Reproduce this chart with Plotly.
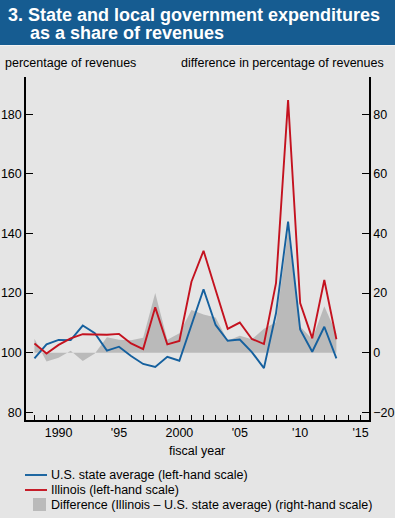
import plotly.graph_objects as go

years = list(range(1988, 2014))
us_avg = [98.1, 102.8, 104.3, 104.2, 109.1, 106.5, 100.7, 102.0, 98.9, 96.2,
          95.2, 98.6, 97.3, 109.5, 121.3, 109.3, 104.0, 104.4, 100.2, 94.8,
          113.2, 144.0, 107.8, 100.3, 108.7, 98.1]
illinois = [103.1, 99.7, 102.6, 104.8, 106.2, 106.2, 106.0, 106.3, 103.1, 101.2,
            115.2, 102.8, 103.9, 123.8, 134.2, 121.0, 108.0, 110.1, 104.6, 102.9,
            123.3, 184.8, 116.6, 104.8, 124.4, 104.5]
difference = [4.7, -3.0, -1.7, 0.6, -2.8, -0.3, 5.2, 4.3, 4.2, 5.0,
              20.0, 4.3, 6.5, 14.3, 12.8, 11.8, 4.0, 5.7, 4.5, 8.0,
              10.2, 40.8, 8.8, 4.5, 15.6, 6.4]

x_tickvals = list(range(1988, 2016))
x_label_map = {1990: "1990", 1995: "'95", 2000: "2000", 2005: "'05", 2010: "'10", 2015: "'15"}
x_ticktext = [x_label_map.get(y, "") for y in x_tickvals]
left_ticks = [80, 100, 120, 140, 160, 180]
right_ticks = [-20, 0, 20, 40, 60, 80]

BG = "#e5e5e5"
BLUE = "#15609e"
RED = "#c4121f"
GRAY = "#bababa"
BANNER = "#165c91"
FONT = "Liberation Sans, Arial, Helvetica, sans-serif"
FS = 12.5

W, H = 395, 518
L, R, T, B = 26, 369, 77, 420
PW, PH = R - L, B - T


def px(xp):
    return (xp - L) / PW


def py(yp):
    return (B - yp) / PH


fig = go.Figure()
fig.add_trace(go.Scatter(x=years, y=difference, yaxis="y2", mode="lines",
                         line=dict(width=0, color=GRAY), fill="tozeroy",
                         fillcolor=GRAY, name="Difference (Illinois – U.S. state average) (right-hand scale)",
                         showlegend=False, hoverinfo="x+y"))
fig.add_trace(go.Scatter(x=years, y=us_avg, yaxis="y", mode="lines",
                         line=dict(width=1.9, color=BLUE),
                         name="U.S. state average (left-hand scale)", showlegend=False))
fig.add_trace(go.Scatter(x=years, y=illinois, yaxis="y", mode="lines",
                         line=dict(width=1.9, color=RED),
                         name="Illinois (left-hand scale)", showlegend=False))

shapes = [
    dict(type="rect", xref="paper", yref="paper", x0=px(0), x1=px(W), y0=py(45), y1=py(0),
         fillcolor=BANNER, line=dict(width=0), layer="above"),
    dict(type="line", xref="paper", yref="paper", x0=px(0), x1=px(W), y0=py(45.5), y1=py(45.5),
         line=dict(color="#f2f2f2", width=1)),
    # legend swatches
    dict(type="line", xref="paper", yref="paper", x0=px(25), x1=px(47), y0=py(475), y1=py(475),
         line=dict(color=BLUE, width=1.9)),
    dict(type="line", xref="paper", yref="paper", x0=px(25), x1=px(47), y0=py(490), y1=py(490),
         line=dict(color=RED, width=1.9)),
    dict(type="rect", xref="paper", yref="paper", x0=px(33), x1=px(46), y0=py(511), y1=py(498),
         fillcolor=GRAY, line=dict(width=0)),
]

def ann(text, x, y, size=FS, color="black", bold=False, xanchor="left", yanchor="middle"):
    return dict(text=("<b>%s</b>" % text) if bold else text, xref="paper", yref="paper",
                x=px(x), y=py(y), xanchor=xanchor, yanchor=yanchor, showarrow=False,
                borderpad=0, font=dict(family=FONT, size=size, color=color))

annotations = [
    ann("3.", 7, 15.5, size=18, color="white", bold=True),
    ann("State and local government expenditures", 27, 15.5, size=18, color="white", bold=True),
    ann("as a share of revenues", 29, 33.5, size=18, color="white", bold=True),
    ann("percentage of revenues", 4, 63),
    ann("difference in percentage of revenues", 385, 63, xanchor="right"),
    ann("fiscal year", 197, 451, xanchor="center"),
    ann("U.S. state average (left-hand scale)", 50, 475),
    ann("Illinois (left-hand scale)", 50, 490),
    ann("Difference (Illinois – U.S. state average) (right-hand scale)", 50, 505),
]

axis_common = dict(showline=True, linecolor="black", linewidth=1.5, showgrid=False,
                   zeroline=False, tickfont=dict(size=FS), tickcolor="black",
                   tickwidth=1.3, automargin=False)

fig.update_layout(
    width=W, height=H, autosize=False,
    margin=dict(l=L, r=W - R, t=T, b=H - B, pad=0, autoexpand=False),
    paper_bgcolor=BG, plot_bgcolor=BG,
    font=dict(family=FONT, size=FS, color="black"),
    showlegend=False,
    xaxis=dict(range=[1987.3, 2015.7], tickvals=x_tickvals, ticktext=x_ticktext,
               ticks="inside", ticklen=5, anchor="y2", **axis_common),
    yaxis2=dict(range=[-22.6, 92.5], tickvals=right_ticks, side="right", anchor="x",
                ticks="inside", ticklen=7, **axis_common),
    yaxis=dict(range=[77.4, 192.5], tickvals=left_ticks, side="left", overlaying="y2",
               anchor="x", ticks="inside", ticklen=7, **axis_common),
    shapes=shapes,
    annotations=annotations,
)

fig.write_html("out.html", config={"displayModeBar": False},
               post_script="document.body.style.margin='0';document.body.style.padding='0';"
                           "document.documentElement.style.overflow='hidden';")
